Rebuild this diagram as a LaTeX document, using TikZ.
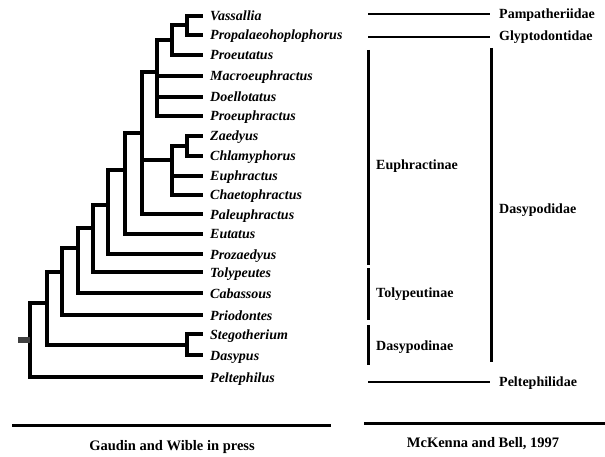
\documentclass[tikz,border=0pt]{standalone}
\usepackage{fontspec}
\setmainfont{Liberation Serif}
\begin{document}
\begin{tikzpicture}[x=1pt,y=-1pt,
  taxon/.style={anchor=west,inner xsep=7pt,inner ysep=0pt,text height=11pt,text depth=1pt,font=\fontsize{14}{14}\selectfont\bfseries\itshape},
  grp/.style={anchor=west,inner sep=0pt,font=\fontsize{14}{14}\selectfont\bfseries},
  capt/.style={inner sep=0pt,font=\fontsize{14.5}{15}\selectfont\bfseries},
  br/.style={line width=4pt},
  thin/.style={line width=1.4pt},
  thick/.style={line width=3pt}]
\useasboundingbox (0,0) rectangle (605,457);
% taxa
\foreach \n/\y in {Vassallia/16,Propalaeohoplophorus/35,Proeutatus/55,Macroeuphractus/76,Doellotatus/97,Proeuphractus/116,Zaedyus/136,Chlamyphorus/156,Euphractus/176,Chaetophractus/195,Paleuphractus/214,Eutatus/234,Prozaedyus/254,Tolypeutes/272,Cabassous/293,Priodontes/315,Stegotherium/334,Dasypus/355,Peltephilus/377}
  \node[taxon] (\n) at (203,\y) {\n};
% internal nodes
\coordinate (A) at (187,25.5);
\coordinate (B) at (172,40);
\coordinate (C) at (157,72);
\coordinate (D) at (187,146);
\coordinate (E) at (172,160);
\coordinate (F) at (142,133);
\coordinate (G) at (125,170);
\coordinate (H) at (108,205);
\coordinate (I) at (93,228);
\coordinate (J) at (78,248);
\coordinate (K) at (62,272);
\coordinate (SD) at (187,345);
\coordinate (L) at (47,303);
\coordinate (R) at (30,340);
\coordinate (stub) at (18,340);
% branches
\draw[br] (A) |- (Vassallia.west);
\draw[br] (A) |- (Propalaeohoplophorus.west);
\draw[br] (B) |- (A);
\draw[br] (B) |- (Proeutatus.west);
\draw[br] (C) |- (B);
\draw[br] (C) |- (Macroeuphractus.west);
\draw[br] (C) |- (Doellotatus.west);
\draw[br] (C) |- (Proeuphractus.west);
\draw[br] (D) |- (Zaedyus.west);
\draw[br] (D) |- (Chlamyphorus.west);
\draw[br] (E) |- (D);
\draw[br] (E) |- (Euphractus.west);
\draw[br] (E) |- (Chaetophractus.west);
\draw[br] (F) |- (C);
\draw[br] (F) |- (E);
\draw[br] (F) |- (Paleuphractus.west);
\draw[br] (G) |- (F);
\draw[br] (G) |- (Eutatus.west);
\draw[br] (H) |- (G);
\draw[br] (H) |- (Prozaedyus.west);
\draw[br] (I) |- (H);
\draw[br] (I) |- (Tolypeutes.west);
\draw[br] (J) |- (I);
\draw[br] (J) |- (Cabassous.west);
\draw[br] (K) |- (J);
\draw[br] (K) |- (Priodontes.west);
\draw[br] (SD) |- (Stegotherium.west);
\draw[br] (SD) |- (Dasypus.west);
\draw[br] (L) |- (K);
\draw[br] (L) |- (SD);
\draw[br] (R) |- (L);
\draw[br] (R) |- (Peltephilus.west);
\draw[line width=6pt,black!75] (stub) -- (R);
% right classification
\coordinate (pa1) at (368,14); \coordinate (pa2) at (490,14);
\coordinate (gl1) at (368,37); \coordinate (gl2) at (490,37);
\coordinate (pe1) at (368,382); \coordinate (pe2) at (490,382);
\draw[thin] (pa1) -- (pa2);
\draw[thin] (gl1) -- (gl2);
\draw[thin] (pe1) -- (pe2);
\node[grp] (pam) at (499,15) {Pampatheriidae};
\node[grp] (gly) at (499,37) {Glyptodontidae};
\node[grp] (pel) at (499,383) {Peltephilidae};
\node[grp] (das) at (499,210) {Dasypodidae};
\coordinate (eu1) at (368,50); \coordinate (eu2) at (368,265);
\coordinate (to1) at (368,268); \coordinate (to2) at (368,320);
\coordinate (dn1) at (368,325); \coordinate (dn2) at (368,365);
\coordinate (dd1) at (491,48); \coordinate (dd2) at (491,362);
\draw[thick] (eu1) -- (eu2);
\draw[thick] (to1) -- (to2);
\draw[thick] (dn1) -- (dn2);
\draw[thick] (dd1) -- (dd2);
\node[grp] (euph) at (376,166) {Euphractinae};
\node[grp] (toly) at (376,294) {Tolypeutinae};
\node[grp] (dasn) at (376,347) {Dasypodinae};
% bottom
\coordinate (bl1) at (12,425); \coordinate (bl2) at (331,425);
\coordinate (br1) at (364,423); \coordinate (br2) at (605,423);
\draw[thick] (bl1) -- (bl2);
\draw[thick] (br1) -- (br2);
\node[capt] (gw) at (172,447) {Gaudin and Wible in press};
\node[capt] (mb) at (483,444) {McKenna and Bell, 1997};
\end{tikzpicture}
\end{document}
